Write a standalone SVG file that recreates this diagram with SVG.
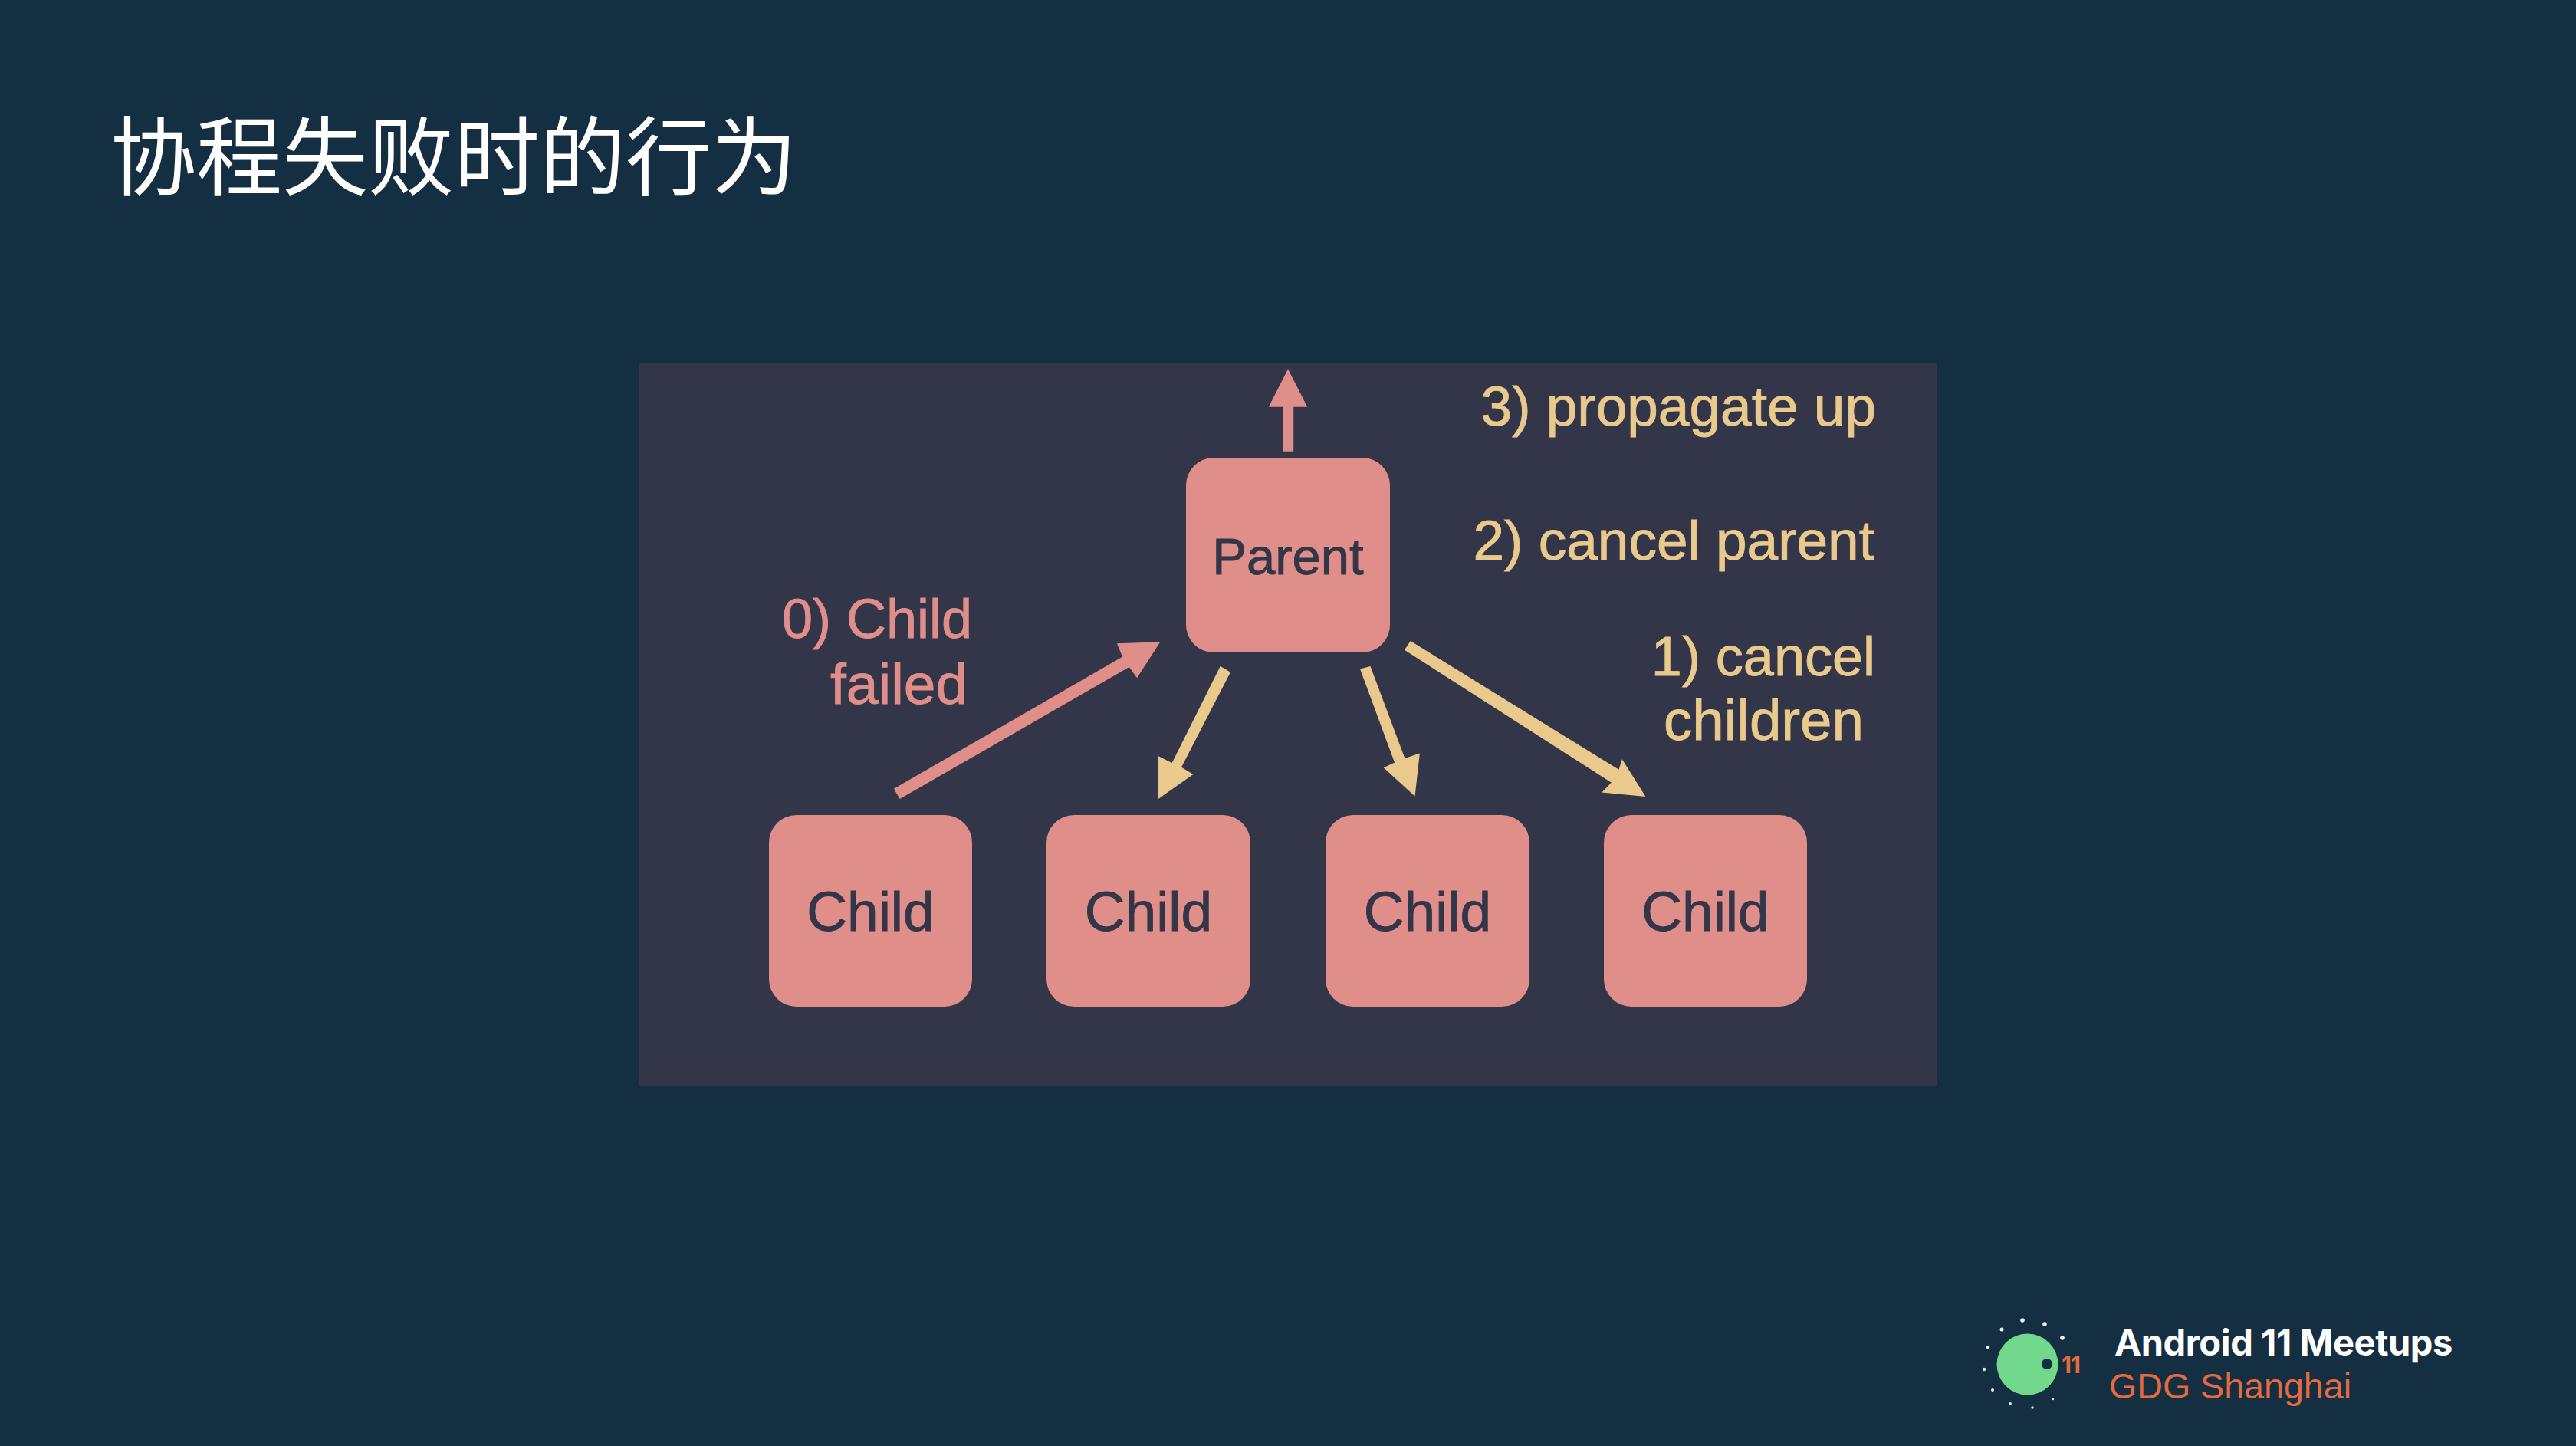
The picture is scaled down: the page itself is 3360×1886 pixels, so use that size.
<svg xmlns="http://www.w3.org/2000/svg" width="3360" height="1886" viewBox="0 0 3360 1886">
<style>
.box{fill:#e08e8a}
.pink{fill:#e08e8a;stroke:#e08e8a}
.yellow{fill:#e9c98c;stroke:#e9c98c}
polygon{stroke-width:1.5}
.lab{font-family:"Liberation Sans",Arial,sans-serif;font-size:73px;stroke-width:.9}
.nt{font-family:"Liberation Sans",Arial,sans-serif;fill:#333548;stroke:#333548;stroke-width:.9;text-anchor:middle}
.dot{fill:#e4f0f2}
</style>
<rect width="3360" height="1886" fill="#142e42"/>
<text id="title" x="144" y="246" font-family="'Noto Sans CJK SC',sans-serif" font-weight="400" font-size="112" fill="#ffffff">协程失败时的行为</text>
<rect id="panel" x="834" y="473" width="1692" height="944" fill="#333548"/>
<g id="connectors">
<polygon class="pink" points="1674,588 1686.500,588 1686.500,530 1704,530 1680,483 1656,530 1674,530"/>
<polygon class="pink" points="1167,1029 1174,1041 1473,869 1483,883 1512,838 1458,840 1465,857"/>
<polygon class="yellow" points="1592,870 1604,877 1540,1001 1555,1010 1511,1041 1511,987 1529,996"/>
<polygon class="yellow" points="1775,873 1787,870 1832,990 1851,983.500 1845,1037 1806,1001.500 1820,995"/>
<polygon class="yellow" points="1833,847.500 1840,837 2112,1005 2116,992 2145,1038 2091,1033 2103,1020.600"/>
</g>
<g id="parent"><rect class="box" x="1547" y="597" width="266" height="254" rx="36"/><text class="nt" x="1680" y="749" font-size="67">Parent</text></g>
<g id="child1"><rect class="box" x="1003" y="1063" width="265" height="250" rx="36"/><text class="nt" x="1135.500" y="1214" font-size="73">Child</text></g>
<g id="child2"><rect class="box" x="1365" y="1063" width="266" height="250" rx="36"/><text class="nt" x="1498" y="1214" font-size="73">Child</text></g>
<g id="child3"><rect class="box" x="1729" y="1063" width="266" height="250" rx="36"/><text class="nt" x="1862" y="1214" font-size="73">Child</text></g>
<g id="child4"><rect class="box" x="2092" y="1063" width="265" height="250" rx="36"/><text class="nt" x="2224.500" y="1214" font-size="73">Child</text></g>
<g id="labels">
<text class="lab pink" x="1020" y="832" style="font-size:72px">0) Child</text>
<text class="lab pink" x="1083" y="918" style="font-size:75px">failed</text>
<text class="lab yellow" x="2447" y="555" text-anchor="end">3) propagate up</text>
<text class="lab yellow" x="2445" y="730" text-anchor="end">2) cancel parent</text>
<text class="lab yellow" x="2446" y="881" text-anchor="end" style="font-size:72px">1) cancel</text>
<text class="lab yellow" x="2431" y="965" text-anchor="end" style="font-size:74.500px">children</text>
</g>
<g id="logo">
<ellipse cx="2644.500" cy="1779.500" rx="40" ry="40" fill="#72d98c"/>
<circle cx="2670" cy="1779" r="7" fill="#142e42"/>
<circle class="dot" cx="2638" cy="1722" r="2.800"/>
<circle class="dot" cx="2667" cy="1727" r="2.800"/>
<circle class="dot" cx="2611" cy="1734" r="2.500"/>
<circle class="dot" cx="2690" cy="1745" r="2.800"/>
<circle class="dot" cx="2593" cy="1757" r="2.300"/>
<circle class="dot" cx="2588" cy="1786" r="2.200"/>
<circle class="dot" cx="2599" cy="1813" r="2"/>
<circle class="dot" cx="2622" cy="1831" r="1.900"/>
<circle class="dot" cx="2651" cy="1836" r="1.700"/>
<circle class="dot" cx="2678" cy="1825" r="1.200"/>
<text x="2689" y="1791" font-family="Inter,sans-serif" font-weight="700" font-size="30" letter-spacing="-1" fill="#e56a3f">11</text>
<text x="2758" y="1768" font-family="Inter,sans-serif" font-weight="700" font-size="47" letter-spacing="-.4" fill="#ffffff">Android 11 Meetups</text>
<text x="2751" y="1824" font-family="'Liberation Sans',Arial,sans-serif" font-size="46.600" fill="#e56a3f">GDG Shanghai</text>
</g>
</svg>
